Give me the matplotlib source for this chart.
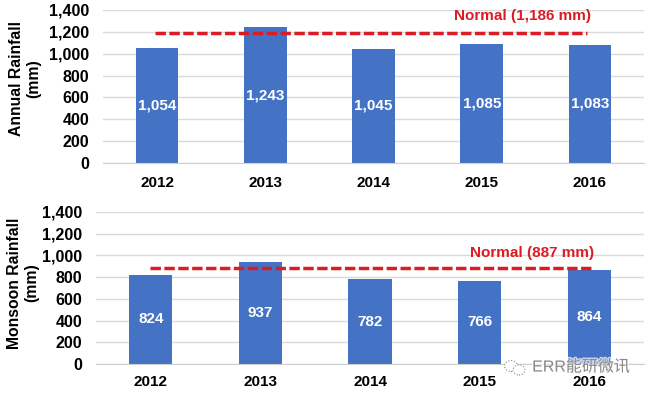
import matplotlib
matplotlib.use('Agg')
import matplotlib.pyplot as plt
import matplotlib.patheffects as pe
from matplotlib.patches import Ellipse

plt.rcParams['font.family'] = ['Liberation Sans', 'Noto Sans CJK SC', 'DejaVu Sans']

years = ['2012', '2013', '2014', '2015', '2016']
annual = [1054, 1243, 1045, 1085, 1083]
monsoon = [824, 937, 782, 766, 864]
annual_normal = 1186
monsoon_normal = 887
yticks = [0, 200, 400, 600, 800, 1000, 1200, 1400]

bar_color = '#4472C4'
red = '#DC1C24'
W, H = 648, 395

fig = plt.figure(figsize=(W/100, H/100), dpi=100)

# Ejes colocados en pixeles
def make_ax(x0, x1, ytop, ybot):
    return fig.add_axes([x0/W, 1 - ybot/H, (x1-x0)/W, (ybot-ytop)/H])

def draw(ax, values, normal, ylabel, label_xy, note, note_xy, line_x, xpad):
    x = range(len(values))
    ax.bar(x, values, width=0.395, color=bar_color)
    ax.plot(line_x, [normal, normal], color=red, lw=2.5, ls=(0, (3.0, 1.0)),
            dash_capstyle='butt')
    for i, v in zip(x, values):
        ax.text(i, v/2, f'{v:,}', ha='center', va='center',
                color='white', fontsize=11, fontweight='bold')
    ax.set_ylim(0, 1400)
    ax.set_xlim(-0.5, 4.5)
    ax.set_xticks(list(x))
    ax.set_xticklabels(years, fontsize=11, fontweight='bold')
    ax.set_yticks(yticks)
    ax.set_yticklabels([f'{t:,}' for t in yticks], fontsize=11.5, fontweight='bold')
    ax.tick_params(axis='y', length=0, pad=10)
    ax.tick_params(axis='x', length=0, pad=xpad)
    ax.grid(axis='y', color='#D9D9D9', lw=1)
    ax.set_axisbelow(True)
    for s in ['top', 'right', 'left']:
        ax.spines[s].set_visible(False)
    ax.spines['bottom'].set_color('#CFCFCF')
    ax.set_ylabel(ylabel, fontsize=11.3, fontweight='bold', va='center')
    ax.yaxis.set_label_coords(label_xy[0]/W, 1 - label_xy[1]/H, transform=fig.transFigure)
    fig.text(note_xy[0]/W, 1 - note_xy[1]/H, note, color=red, fontsize=11, fontweight='bold',
             ha='center', va='center')

ax1 = make_ax(103, 644, 10, 163)
draw(ax1, annual, annual_normal, 'Annual Rainfall\n(mm)', (25, 79),
     'Normal (1,186 mm)', (522, 16), [-0.02, 3.97], 9.5)

ax2 = make_ax(96, 644, 212, 364)
draw(ax2, monsoon, monsoon_normal, 'Monsoon Rainfall\n(mm)', (23, 283),
     'Normal (887 mm)', (532, 253), [-0.01, 4.03], 8)

# Marca de agua
fig.text(581/W, 1 - 367/H, 'ERR能研微讯', color='#8A8A8A', fontsize=11.5, ha='center', va='center',
         path_effects=[pe.withStroke(linewidth=2, foreground='white', alpha=0.7)])
for cx, cy, w, h in [(511, 366, 13, 11), (519, 370, 12, 10)]:
    fig.add_artist(Ellipse((cx/W, 1 - cy/H), w/W, h/H, transform=fig.transFigure,
                           fc='white', ec='#8A8A8A', lw=0.8, ls=':'))

fig.savefig('out.png', dpi=100)
